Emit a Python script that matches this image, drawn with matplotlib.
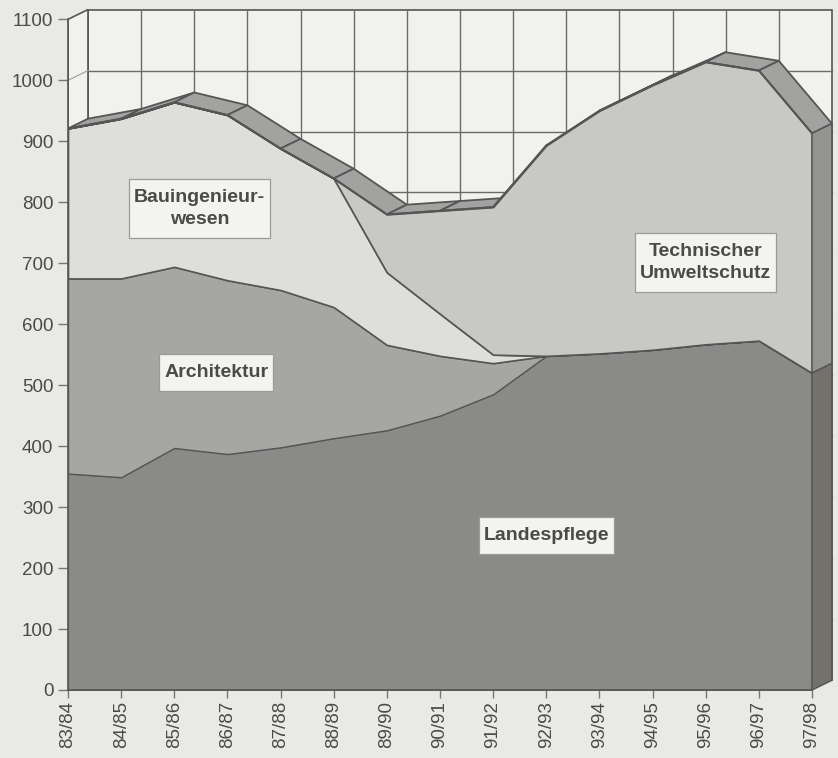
import matplotlib
matplotlib.use('Agg')
import matplotlib.pyplot as plt
from matplotlib.patches import Polygon, Rectangle
import numpy as np

plt.rcParams['font.family'] = ['Liberation Sans', 'DejaVu Sans']

# data (students per winter semester)
years = ['83/84', '84/85', '85/86', '86/87', '87/88', '88/89', '89/90', '90/91',
         '91/92', '92/93', '93/94', '94/95', '95/96', '96/97', '97/98']
landespflege = [355, 349, 397, 387, 398, 413, 426, 450, 485, 548, 552, 558, 567, 573, 520]
architektur = [320, 326, 297, 285, 258, 215, 140, 98, 51, 0, 0, 0, 0, 0, 0]
bauingenieur = [246, 262, 270, 271, 232, 211, 119, 69, 14, 0, 0, 0, 0, 0, 0]
umweltschutz = [0, 0, 0, 0, 0, 0, 95, 169, 242, 345, 398, 434, 463, 443, 393]

# style
bg = '#e9e9e5'
wall = '#f1f1ed'
line = '#555555'
grid = '#6a6a6a'
col_l = '#8a8a88'
col_a = '#a6a6a4'
col_b = '#dededa'
col_t = '#c8c8c5'
col_rib = '#a2a2a0'
side_l = '#75726e'
side_t = '#939391'
txt = '#4a4a4a'

# oblique depth offset (data units)
DX, DY = 0.376, 16.0
YMAX = 1100

x = np.arange(len(years))
n = len(years) - 1
l_top = np.array(landespflege, dtype=float)
a_top = l_top + np.array(architektur)
b_top = a_top + np.array(bauingenieur)
t_top = b_top + np.array(umweltschutz)

fig = plt.figure(figsize=(8.38, 7.58), dpi=100, facecolor=bg)
ax = fig.add_axes([68 / 838, 68 / 758, 14.45 * 53.14 / 838, 1120 * 0.6097 / 758])
ax.set_facecolor('none')
ax.set_xlim(0, 14.45)
ax.set_ylim(0, 1120)

# back wall and left wall
ax.add_patch(Polygon([(DX, DY), (n + DX, DY), (n + DX, YMAX + DY), (DX, YMAX + DY)],
                     closed=True, facecolor=wall, edgecolor=line, lw=1.2, zorder=1))
ax.add_patch(Polygon([(0, 0), (0, YMAX), (DX, YMAX + DY), (DX, DY)],
                     closed=True, facecolor=wall, edgecolor=line, lw=1.2, zorder=1))
for v in range(100, YMAX, 100):
    ax.plot([DX, n + DX], [v + DY, v + DY], color=grid, lw=1, zorder=2)
    ax.plot([0, DX], [v, v + DY], color='#9a9a9a', lw=0.8, zorder=2)
for i in range(1, n):
    ax.plot([i + DX, i + DX], [DY, YMAX + DY], color=grid, lw=1, zorder=2)

# top surface ribbon
for i in range(n):
    quad = [(x[i], t_top[i]), (x[i + 1], t_top[i + 1]),
            (x[i + 1] + DX, t_top[i + 1] + DY), (x[i] + DX, t_top[i] + DY)]
    ax.add_patch(Polygon(quad, closed=True, facecolor=col_rib, edgecolor=line,
                         lw=1.3, joinstyle='round', zorder=3))

# front face (stacked areas)
ax.fill_between(x, 0, l_top, facecolor=col_l, edgecolor='#6e6e6c', lw=1, zorder=4)
ax.fill_between(x, l_top, a_top, facecolor=col_a, edgecolor=line, lw=1, zorder=4)
ax.fill_between(x, a_top, b_top, facecolor=col_b, edgecolor=line, lw=1.2, zorder=4)
ax.fill_between(x, b_top, t_top, facecolor=col_t, edgecolor=line, lw=1.2, zorder=4)
ax.plot(x, t_top, color=line, lw=1.4, zorder=5)

# right side face
xe = x[-1]
for lo, hi, c in [(0, l_top[-1], side_l), (l_top[-1], t_top[-1], side_t)]:
    ax.add_patch(Polygon([(xe, lo), (xe, hi), (xe + DX, hi + DY), (xe + DX, lo + DY)],
                         closed=True, facecolor=c, edgecolor=line, lw=1.1, zorder=5))

# labels
lab = dict(fontsize=14, fontweight='bold', color=txt, ha='center', va='center',
           linespacing=1.35, zorder=7)
labels = [
    ax.text(2.48, 790, 'Bauingenieur-\nwesen', **lab),
    ax.text(2.79, 521, 'Architektur', **lab),
    ax.text(12.0, 701, 'Technischer\nUmweltschutz', **lab),
    ax.text(9.0, 254, 'Landespflege', **lab),
]

# axes
for s in ['top', 'right']:
    ax.spines[s].set_visible(False)
ax.spines['left'].set_bounds(0, YMAX)
ax.spines['bottom'].set_bounds(0, n)
for s in ['left', 'bottom']:
    ax.spines[s].set_color(line)
    ax.spines[s].set_linewidth(1.2)
    ax.spines[s].set_zorder(6)
ax.set_yticks(range(0, YMAX + 1, 100))
ax.set_xticks(x)
ax.set_xticklabels(years, rotation=90)
ax.tick_params(axis='y', length=7.5, pad=3, width=1, color='#777777',
               labelsize=13.5, labelcolor=txt)
ax.tick_params(axis='x', length=6, pad=2, width=1, color='#777777',
               labelsize=13.5, labelcolor=txt)

# label boxes: more padding vertically than horizontally
fig.canvas.draw()
renderer = fig.canvas.get_renderer()
inv = fig.transFigure.inverted()
for t in labels:
    bb = t.get_window_extent(renderer)
    (x0, y0), (x1, y1) = inv.transform([(bb.x0 - 5, bb.y0 - 10), (bb.x1 + 5, bb.y1 + 10)])
    ax.add_patch(Rectangle((x0, y0), x1 - x0, y1 - y0, transform=fig.transFigure,
                           facecolor='#f3f3ef', edgecolor='#9a9a98', lw=0.9,
                           clip_on=False, zorder=6))

fig.savefig('out.png', dpi=100, facecolor=bg)
